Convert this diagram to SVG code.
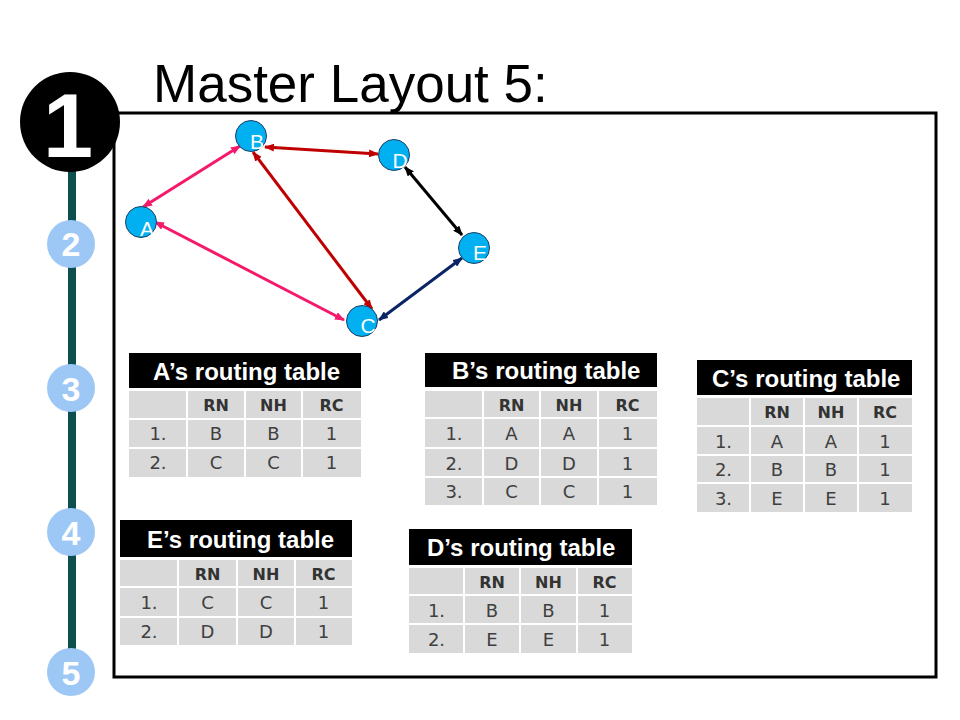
<svg xmlns="http://www.w3.org/2000/svg" width="960" height="720" viewBox="0 0 960 720">
<style>
.title{font-family:"Liberation Sans",Arial,sans-serif;font-size:53px;fill:#000}
.tl{fill:#fff;font-family:"Liberation Sans",Arial,sans-serif;font-weight:bold;text-anchor:middle}
.step{fill:#9dc8f5}
.node{fill:#00b0f0;stroke:#1f3f66;stroke-width:1}
.nlab{fill:#fff;font-family:"Liberation Sans",Arial,sans-serif;font-size:21px;text-anchor:middle}
.edge{fill:none;stroke-width:3}
.hdr{fill:#000}
.th{fill:#fff;font-family:"Liberation Sans",Arial,sans-serif;font-size:24px;font-weight:bold}
.body{fill:#d9d9d9}
.sep{stroke:#fff;stroke-width:2}
.ch{fill:#333;font-family:"DejaVu Sans",Verdana,sans-serif;font-size:16px;font-weight:bold;text-anchor:middle}
.cv{fill:#404040;font-family:"DejaVu Sans",Verdana,sans-serif;font-size:18px;text-anchor:middle}
</style>
<defs>
<marker id="mPink" markerUnits="userSpaceOnUse" markerWidth="10" markerHeight="8" refX="9" refY="4" orient="auto-start-reverse"><path d="M0,0 L10,4 L0,8 z" fill="#f5196b"/></marker>
<marker id="mRed" markerUnits="userSpaceOnUse" markerWidth="10" markerHeight="8" refX="9" refY="4" orient="auto-start-reverse"><path d="M0,0 L10,4 L0,8 z" fill="#c00000"/></marker>
<marker id="mBlack" markerUnits="userSpaceOnUse" markerWidth="10" markerHeight="8" refX="9" refY="4" orient="auto-start-reverse"><path d="M0,0 L10,4 L0,8 z" fill="#000"/></marker>
<marker id="mNavy" markerUnits="userSpaceOnUse" markerWidth="10" markerHeight="8" refX="9" refY="4" orient="auto-start-reverse"><path d="M0,0 L10,4 L0,8 z" fill="#0a2466"/></marker>
</defs>
<rect width="960" height="720" fill="#fff"/>
<text class="title" x="153" y="102">Master Layout 5:</text>
<rect x="114" y="113" width="822" height="564" fill="none" stroke="#000" stroke-width="3"/>
<g id="timeline">
<line x1="72" y1="170" x2="72" y2="652" stroke="#0d4f4d" stroke-width="8"/>
<circle cx="70" cy="122" r="50" fill="#000"/>
<text class="tl" x="68" y="157" font-size="90">1</text>
<circle class="step" cx="71" cy="244" r="24"/>
<text class="tl" x="71" y="256" font-size="34">2</text>
<circle class="step" cx="71" cy="388" r="24"/>
<text class="tl" x="71" y="401" font-size="34">3</text>
<circle class="step" cx="71" cy="532" r="24"/>
<text class="tl" x="71" y="545" font-size="34">4</text>
<circle class="step" cx="71" cy="672" r="24"/>
<text class="tl" x="71" y="685" font-size="34">5</text>
</g>
<g id="connectors">
<line class="edge" x1="143" y1="207" x2="240" y2="146" stroke="#f5196b" marker-start="url(#mPink)" marker-end="url(#mPink)"/>
<line class="edge" x1="155" y1="222" x2="344" y2="320" stroke="#f5196b" marker-start="url(#mPink)" marker-end="url(#mPink)"/>
<line class="edge" x1="265" y1="147" x2="378" y2="154" stroke="#c00000" marker-start="url(#mRed)" marker-end="url(#mRed)"/>
<line class="edge" x1="253" y1="152" x2="372" y2="309" stroke="#c00000" marker-start="url(#mRed)" marker-end="url(#mRed)"/>
<line class="edge" x1="405" y1="167" x2="462" y2="235" stroke="#000" marker-start="url(#mBlack)" marker-end="url(#mBlack)"/>
<line class="edge" x1="379" y1="320" x2="462" y2="258" stroke="#0a2466" marker-start="url(#mNavy)" marker-end="url(#mNavy)"/>
</g>
<g id="node-A"><circle class="node" cx="141" cy="222" r="15.5"/><text class="nlab" x="147" y="236">A</text></g>
<g id="node-B"><circle class="node" cx="251" cy="136" r="15.5"/><text class="nlab" x="257" y="149">B</text></g>
<g id="node-D"><circle class="node" cx="394" cy="155" r="15.5"/><text class="nlab" x="400" y="168">D</text></g>
<g id="node-E"><circle class="node" cx="474" cy="248" r="15.5"/><text class="nlab" x="480" y="260">E</text></g>
<g id="node-C"><circle class="node" cx="362" cy="321" r="15.5"/><text class="nlab" x="368" y="333">C</text></g>

<g id="table-A">
<rect class="hdr" x="129" y="353" width="232" height="35"/>
<text class="th" x="153" y="380">A’s routing table</text>
<rect class="body" x="129" y="391" width="232" height="86"/>
<line class="sep" x1="129" y1="419" x2="361" y2="419"/><line class="sep" x1="129" y1="448" x2="361" y2="448"/>
<line class="sep" x1="187" y1="391" x2="187" y2="477"/><line class="sep" x1="245" y1="391" x2="245" y2="477"/><line class="sep" x1="302" y1="391" x2="302" y2="477"/>
<text class="ch" x="216" y="411">RN</text><text class="ch" x="273.5" y="411">NH</text><text class="ch" x="331.5" y="411">RC</text>
<text class="cv" x="158" y="440">1.</text><text class="cv" x="216" y="440">B</text><text class="cv" x="273.5" y="440">B</text><text class="cv" x="331.5" y="440">1</text>
<text class="cv" x="158" y="469">2.</text><text class="cv" x="216" y="469">C</text><text class="cv" x="273.5" y="469">C</text><text class="cv" x="331.5" y="469">1</text>
</g>

<g id="table-B">
<rect class="hdr" x="425" y="353" width="232" height="34"/>
<text class="th" x="452" y="379">B’s routing table</text>
<rect class="body" x="425" y="391" width="232" height="114"/>
<line class="sep" x1="425" y1="418" x2="657" y2="418"/><line class="sep" x1="425" y1="448" x2="657" y2="448"/><line class="sep" x1="425" y1="477" x2="657" y2="477"/>
<line class="sep" x1="483" y1="391" x2="483" y2="505"/><line class="sep" x1="540" y1="391" x2="540" y2="505"/><line class="sep" x1="598" y1="391" x2="598" y2="505"/>
<text class="ch" x="511.5" y="411">RN</text><text class="ch" x="569" y="411">NH</text><text class="ch" x="627.5" y="411">RC</text>
<text class="cv" x="454" y="440">1.</text><text class="cv" x="511.5" y="440">A</text><text class="cv" x="569" y="440">A</text><text class="cv" x="627.5" y="440">1</text>
<text class="cv" x="454" y="469.5">2.</text><text class="cv" x="511.5" y="469.5">D</text><text class="cv" x="569" y="469.5">D</text><text class="cv" x="627.5" y="469.5">1</text>
<text class="cv" x="454" y="498">3.</text><text class="cv" x="511.5" y="498">C</text><text class="cv" x="569" y="498">C</text><text class="cv" x="627.5" y="498">1</text>
</g>

<g id="table-C">
<rect class="hdr" x="697" y="360" width="215" height="35"/>
<text class="th" x="712" y="387">C’s routing table</text>
<rect class="body" x="697" y="398" width="215" height="114"/>
<line class="sep" x1="697" y1="426" x2="912" y2="426"/><line class="sep" x1="697" y1="455" x2="912" y2="455"/><line class="sep" x1="697" y1="483" x2="912" y2="483"/>
<line class="sep" x1="750" y1="398" x2="750" y2="512"/><line class="sep" x1="804" y1="398" x2="804" y2="512"/><line class="sep" x1="858" y1="398" x2="858" y2="512"/>
<text class="ch" x="777" y="418">RN</text><text class="ch" x="831" y="418">NH</text><text class="ch" x="885" y="418">RC</text>
<text class="cv" x="723.5" y="447.5">1.</text><text class="cv" x="777" y="447.5">A</text><text class="cv" x="831" y="447.5">A</text><text class="cv" x="885" y="447.5">1</text>
<text class="cv" x="723.5" y="476">2.</text><text class="cv" x="777" y="476">B</text><text class="cv" x="831" y="476">B</text><text class="cv" x="885" y="476">1</text>
<text class="cv" x="723.5" y="504.5">3.</text><text class="cv" x="777" y="504.5">E</text><text class="cv" x="831" y="504.5">E</text><text class="cv" x="885" y="504.5">1</text>
</g>

<g id="table-E">
<rect class="hdr" x="120" y="520" width="232" height="37"/>
<text class="th" x="147" y="548">E’s routing table</text>
<rect class="body" x="120" y="560" width="232" height="85"/>
<line class="sep" x1="120" y1="587" x2="352" y2="587"/><line class="sep" x1="120" y1="617" x2="352" y2="617"/>
<line class="sep" x1="178" y1="560" x2="178" y2="645"/><line class="sep" x1="237" y1="560" x2="237" y2="645"/><line class="sep" x1="295" y1="560" x2="295" y2="645"/>
<text class="ch" x="207.5" y="579.5">RN</text><text class="ch" x="266" y="579.5">NH</text><text class="ch" x="323.5" y="579.5">RC</text>
<text class="cv" x="149" y="609">1.</text><text class="cv" x="207.5" y="609">C</text><text class="cv" x="266" y="609">C</text><text class="cv" x="323.5" y="609">1</text>
<text class="cv" x="149" y="638">2.</text><text class="cv" x="207.5" y="638">D</text><text class="cv" x="266" y="638">D</text><text class="cv" x="323.5" y="638">1</text>
</g>

<g id="table-D">
<rect class="hdr" x="409" y="529" width="223" height="36"/>
<text class="th" x="427" y="556">D’s routing table</text>
<rect class="body" x="409" y="568" width="223" height="85"/>
<line class="sep" x1="409" y1="595" x2="632" y2="595"/><line class="sep" x1="409" y1="624" x2="632" y2="624"/>
<line class="sep" x1="464" y1="568" x2="464" y2="653"/><line class="sep" x1="520" y1="568" x2="520" y2="653"/><line class="sep" x1="577" y1="568" x2="577" y2="653"/>
<text class="ch" x="492" y="587.5">RN</text><text class="ch" x="548.5" y="587.5">NH</text><text class="ch" x="604.5" y="587.5">RC</text>
<text class="cv" x="436.5" y="616.5">1.</text><text class="cv" x="492" y="616.5">B</text><text class="cv" x="548.5" y="616.5">B</text><text class="cv" x="604.5" y="616.5">1</text>
<text class="cv" x="436.5" y="645.5">2.</text><text class="cv" x="492" y="645.5">E</text><text class="cv" x="548.5" y="645.5">E</text><text class="cv" x="604.5" y="645.5">1</text>
</g>
</svg>
